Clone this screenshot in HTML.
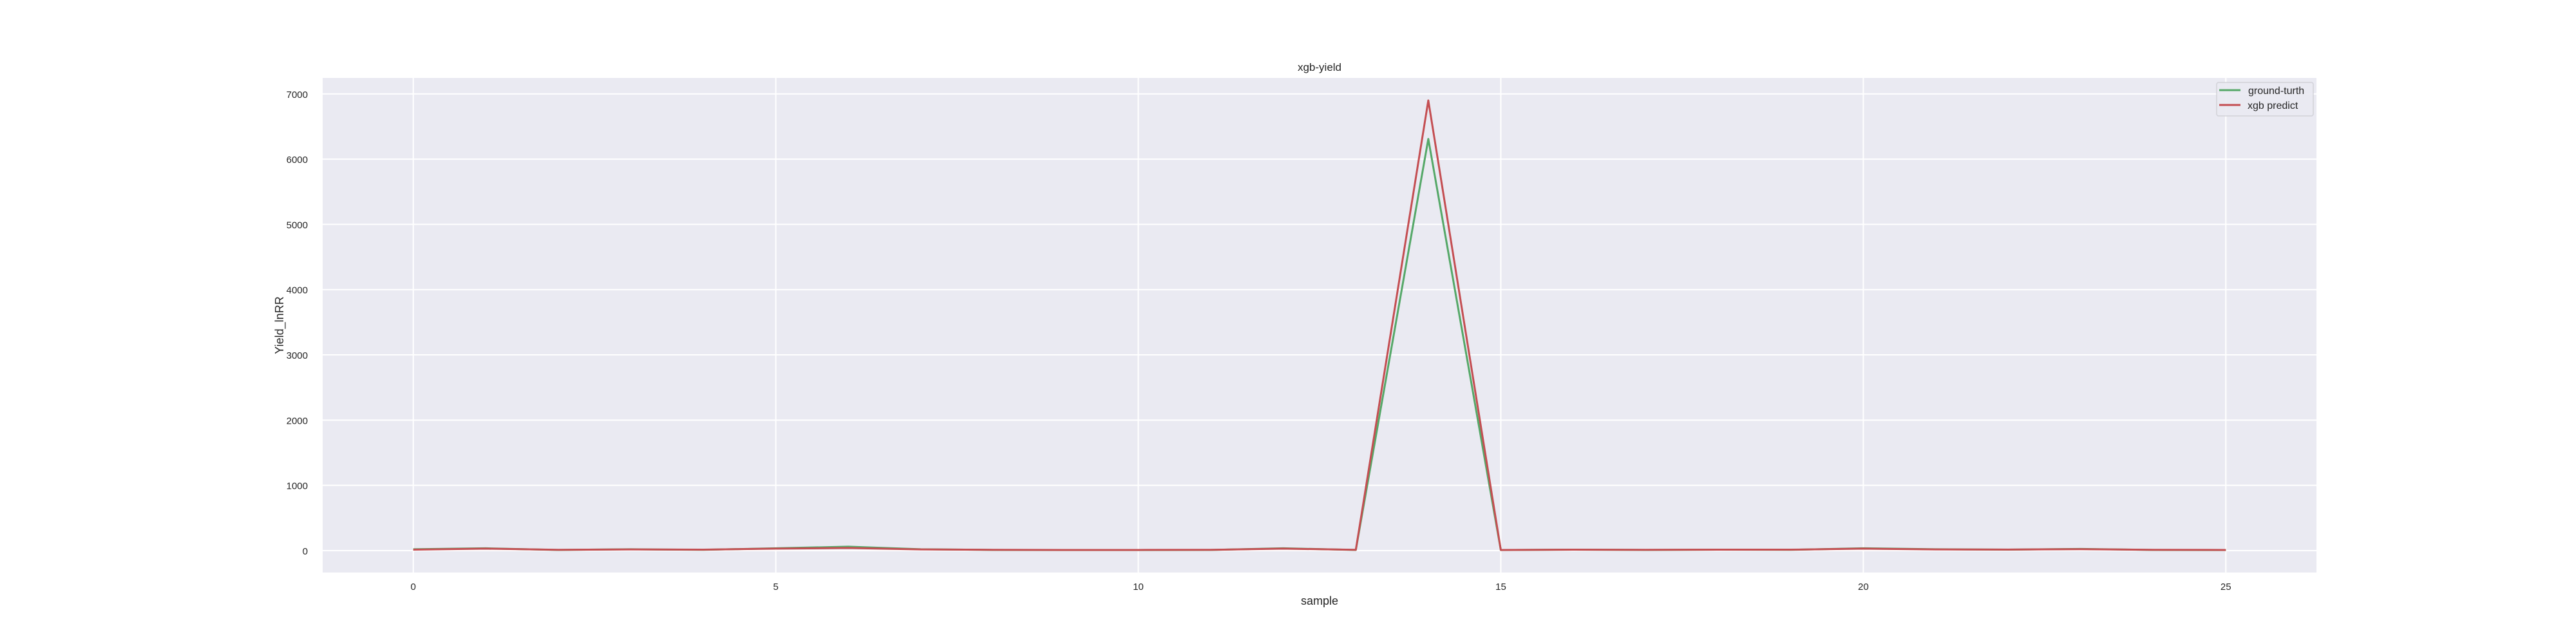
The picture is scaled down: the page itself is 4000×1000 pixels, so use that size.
<!DOCTYPE html>
<html><head><meta charset="utf-8"><style>
html,body{margin:0;padding:0;background:#fff;width:4000px;height:1000px;overflow:hidden}
svg{display:block;font-family:"Liberation Sans",sans-serif}
</style></head><body>
<svg id="chart" width="4000" height="1000">
<rect x="501" y="121" width="3096" height="768" fill="#eaeaf2"/>
<g id="grid"></g><g id="ticks"></g><g id="lines"></g>
<text x="2049" y="110" font-size="17" text-anchor="middle" fill="#262626">xgb-yield</text>
<text x="2049" y="939" font-size="18" text-anchor="middle" fill="#262626">sample</text>
<text transform="translate(440,505) rotate(-90)" font-size="18" text-anchor="middle" fill="#262626">Yield_lnRR</text>
<g>
<rect x="3442" y="128" width="150" height="52" rx="3" fill="#eaeaf2" stroke="#cfcfd6" stroke-width="1.5" opacity="0.9"/>
<line x1="3446" y1="140" x2="3479" y2="140" stroke="#55a868" stroke-width="3"/>
<text x="3491" y="146" font-size="16" fill="#262626">ground-turth</text>
<line x1="3446" y1="163" x2="3479" y2="163" stroke="#c44e52" stroke-width="3"/>
<text x="3490" y="169" font-size="16" fill="#262626">xgb predict</text>
</g>
</svg>
<script>
const xTicks=[0,5,10,15,20,25];
const yTicks=[0,1000,2000,3000,4000,5000,6000,7000];
const groundTruth=[20,35,10,20,12,35,60,20,10,8,8,10,35,10,6310,8,15,10,15,12,35,20,15,25,10,8];
const xgbPredict=[15,30,12,18,14,30,40,18,12,10,10,12,30,12,6900,10,14,12,14,14,30,18,16,22,12,10];
const X0=-1.25,X1=26.25,Y0=-336,Y1=7245;
function sx(v){return 501+(v-X0)/(X1-X0)*3096;}
function sy(v){return 889-(v-Y0)/(Y1-Y0)*768;}
const NS="http://www.w3.org/2000/svg";
const grid=document.getElementById('grid'),ticks=document.getElementById('ticks'),lines=document.getElementById('lines');
function mk(tag,attrs,parent){const e=document.createElementNS(NS,tag);for(const k in attrs)e.setAttribute(k,attrs[k]);parent.appendChild(e);return e;}
yTicks.forEach(v=>{
 const l=mk('line',{x1:501,x2:3597,y1:sy(v),y2:sy(v),stroke:'#fff','stroke-width':2},grid);
 
 
 const t=mk('text',{x:478,y:sy(v)+6,'font-size':15,'text-anchor':'end',fill:'#262626'},ticks);
 t.textContent=v;
 
 
});
xTicks.forEach(v=>{
 const l=mk('line',{x1:sx(v),x2:sx(v),y1:121,y2:889,stroke:'#fff','stroke-width':2},grid);
 
 
 const t=mk('text',{x:sx(v),y:916,'font-size':15,'text-anchor':'middle',fill:'#262626'},ticks);
 t.textContent=v;
 
 
});
function drawLine(arr,color,name){
 const p=mk('polyline',{points:arr.map((v,i)=>sx(i)+','+sy(v)).join(' '),fill:'none',stroke:color,'stroke-width':3,'stroke-linejoin':'round'},lines);
 
 
}
drawLine(groundTruth,'#55a868','ground-truth-line');
drawLine(xgbPredict,'#c44e52','xgb-predict-line');
</script>
</body></html>
